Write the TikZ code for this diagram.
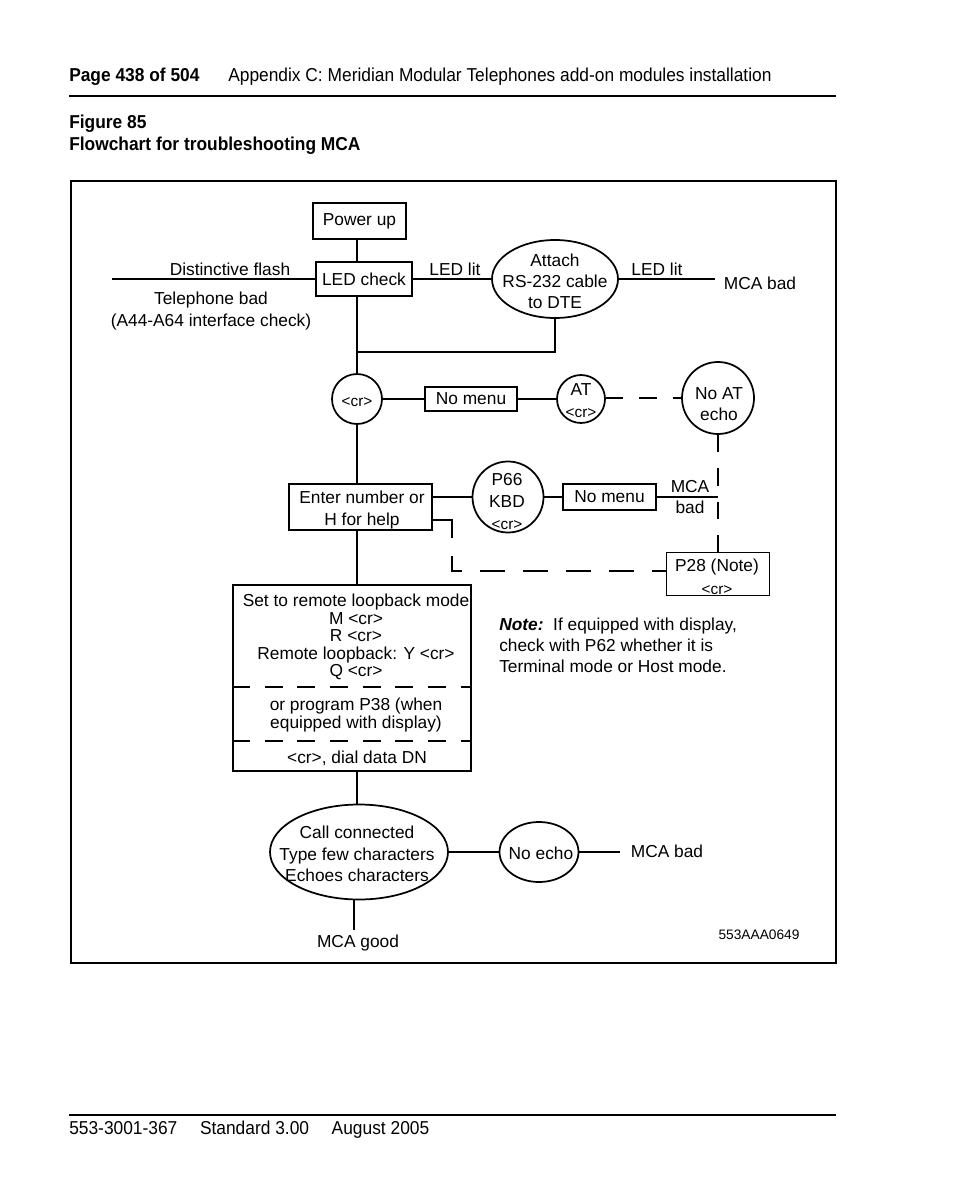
\documentclass[tikz,border=0pt]{standalone}
\usepackage{fontspec}
\setmainfont{Liberation Sans}
\newfontfamily\narrowfont[FakeStretch=0.93]{Liberation Sans}
\usetikzlibrary{shapes.geometric}
\begin{document}
\begin{tikzpicture}[x=0.75pt,y=-0.75pt,
  every node/.style={font=\fontsize{13}{16}\selectfont, inner sep=0pt},
  ln/.style={line width=1.3pt},
  rbox/.style={draw, line width=1.3pt, rectangle, align=center},
  ell/.style={draw, line width=1.3pt, ellipse},
  circ/.style={draw, line width=1.3pt, circle},
  dsh/.style={line width=1.3pt, dash pattern=on 13pt off 12pt},
  dshlong/.style={line width=1.3pt, dash pattern=on 18.75pt off 13.5pt},
  dshbox/.style={line width=1.3pt, dash pattern=on 13.5pt off 11pt},
  hdr/.style={font=\narrowfont\fontsize{14}{16}\selectfont},
  smalltxt/.style={font=\fontsize{11.5}{13}\selectfont}
]
\useasboundingbox (0,0) rectangle (954,1202);

% header and footer
\node[hdr, anchor=base west] (hpage) at (69,82) {\bfseries Page 438 of 504};
\node[hdr, anchor=base west] (happ) at (228,82) {Appendix C: Meridian Modular Telephones add-on modules installation};
\draw[line width=1.8pt] (69,96) -- (836,96);
\node[hdr, anchor=base west] (hfig) at (69,129) {\bfseries Figure 85};
\node[hdr, anchor=base west] (htitle) at (69,151) {\bfseries Flowchart for troubleshooting MCA};
\draw[line width=1.8pt] (69,1115) -- (836,1115);
\node[hdr, anchor=base west] (foot) at (69,1134) {553-3001-367\hspace{17pt}Standard 3.00\hspace{17pt}August 2005};

% frame
\draw[line width=1.6pt] (71,963) -- (71,181) -- (836,181) -- (836,963) -- cycle;

% shapes
\node[rbox, minimum width=69.75pt, minimum height=27pt] (pu) at (359.5,221) {Power up};
\node[rbox, minimum width=72pt, minimum height=25.5pt] (led) at (364,279) {LED check};
\node[ell, minimum width=94.5pt, minimum height=58.5pt] (att) at (555,279) {};
\node[align=center, font=\fontsize{13}{15.75}\selectfont] (attT) at (555,281) {Attach\\RS-232 cable\\to DTE};
\node[circ, minimum size=37.5pt] (cr) at (357,399) {};
\node[smalltxt] (crT) at (357,402) {<cr>};
\node[rbox, minimum width=69pt, minimum height=18pt] (nm1) at (471,399) {No menu};
\node[circ, minimum size=36pt] (at) at (581,399) {};
\node[align=center, font=\fontsize{13}{16.5}\selectfont] (atT) at (581,401) {AT\\{\fontsize{11.5}{13}\selectfont <cr>}};
\node[circ, minimum size=54pt] (noat) at (718,398) {};
\node[align=center, font=\fontsize{13}{15.75}\selectfont] (noatT) at (719,404) {No AT\\echo};
\node[rbox, minimum width=107.25pt, minimum height=34.5pt] (enter) at (360.5,507) {};
\node[align=center, font=\fontsize{13}{16.5}\selectfont] (enterT) at (362,510) {Enter number or\\H for help};
\node[circ, minimum size=53.25pt] (p66) at (508,497) {};
\node[align=center, font=\fontsize{13}{16.5}\selectfont] (p66T) at (507,502) {P66\\KBD\\{\fontsize{11.5}{13}\selectfont <cr>}};
\node[rbox, minimum width=69.75pt, minimum height=19.5pt] (nm2) at (609.5,497) {No menu};
\node[rbox, minimum width=77.25pt, minimum height=32.25pt] (p28) at (718,574) {};
\node[font=\fontsize{13}{16}\selectfont] (p28T) at (717,567) {P28 (Note)};
\node[smalltxt] (p28C) at (717,590) {<cr>};

\node[draw, line width=1.3pt, rectangle, minimum width=178.5pt, minimum height=139.5pt] (loop) at (352,678) {};
\node[align=center, font=\fontsize{13}{13.1}\selectfont] (loopA) at (356,637) {Set to remote loopback mode\\M <cr>\\R <cr>\\Remote loopback: Y <cr>\\Q <cr>};
\node[align=center, font=\fontsize{13}{13.1}\selectfont] (loopB) at (356,715) {or program P38 (when\\equipped with display)};
\node (loopC) at (357,758) {<cr>, dial data DN};
\coordinate (d1) at (0,687);
\coordinate (d2) at (0,741);
\draw[dshbox] (loop.west |- d1) -- (loop.east |- d1);
\draw[dshbox] (loop.west |- d2) -- (loop.east |- d2);

\node[ell, minimum width=133.5pt, minimum height=71.25pt] (call) at (359,852) {};
\node[align=center, font=\fontsize{13}{16.1}\selectfont] (callT) at (357,854) {Call connected\\Type few characters\\Echoes characters};
\node[ell, minimum width=59.25pt, minimum height=45pt] (noecho) at (539,852) {};
\node (noechoT) at (541,853) {No echo};

% labels
\node (ldf) at (230,269) {Distinctive flash};
\node[align=center, font=\fontsize{13}{16.5}\selectfont] (ltb) at (211,311) {Telephone bad\\(A44-A64 interface check)};
\node (llit1) at (455,269) {LED lit};
\node (llit2) at (657,269) {LED lit};
\node (lbad1) at (760,283) {MCA bad};
\node[align=center, font=\fontsize{13}{15.75}\selectfont] (lbad2) at (690,497) {MCA\\bad};
\node[align=left, anchor=west, font=\fontsize{13}{15.75}\selectfont] (note) at (499,645) {\textbf{\textit{Note:}}\ \ If equipped with display,\\check with P62 whether it is\\Terminal mode or Host mode.};
\node (lbad3) at (667,851) {MCA bad};
\node (lgood) at (358,943) {MCA good};
\node[font=\fontsize{10.3}{12}\selectfont] (code) at (759,935) {553AAA0649};

% connectors
\coordinate (trunk) at (357,0);
\coordinate (lft) at (112,279);
\coordinate (rgt) at (715,279);
\coordinate (join) at (357,352);
\coordinate (mb) at (718,497);
\coordinate (bend) at (452,520);
\coordinate (bend2) at (452,538);
\coordinate (nmb) at (620,852);
\coordinate (gd) at (354,930);

\draw[ln] (pu.south -| trunk) -- (led.north -| trunk);
\draw[ln] (led.west) -- (lft);
\draw[ln] (led.east) -- (att.west);
\draw[ln] (att.east) -- (rgt);
\draw[ln] (att.south) |- (join);
\draw[ln] (led.south -| trunk) -- (cr.north);
\draw[ln] (cr.east) -- (nm1.west);
\draw[ln] (nm1.east) -- (at.west);
\draw[dsh] (at.east |- noat.west) -- (noat.west);
\draw[dsh] (noat.south) -- (p28.north);
\draw[ln] (cr.south) -- (enter.north -| trunk);
\draw[ln] (enter.east |- p66.west) -- (p66.west);
\draw[ln] (p66.east) -- (nm2.west);
\draw[ln] (nm2.east) -- (mb);
\draw[ln] (enter.east |- bend) -- (bend) -- (bend2);
\draw[dshlong, dash phase=18.75pt] (bend2) |- (p28.west |- 0,571);
\draw[ln] (enter.south -| trunk) -- (loop.north -| trunk);
\draw[ln] (loop.south -| trunk) -- (call.north -| trunk);
\draw[ln] (call.east) -- (noecho.west);
\draw[ln] (noecho.east) -- (nmb);
\draw[ln] (call.south -| gd) -- (gd);
\end{tikzpicture}
\end{document}
